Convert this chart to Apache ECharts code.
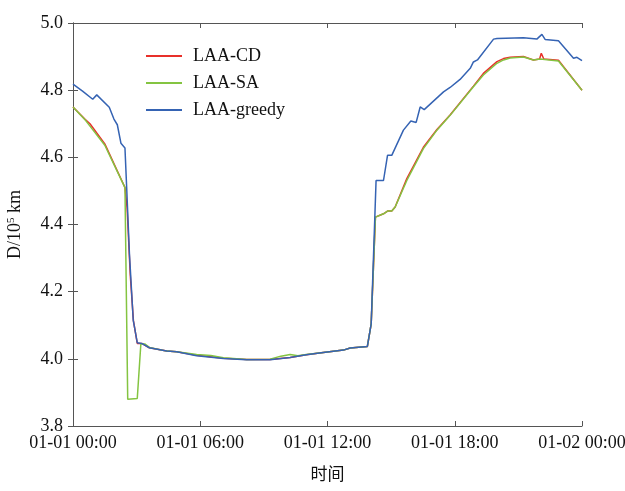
<!DOCTYPE html>
<html>
<head>
    <meta charset="UTF-8">
    <title>LAA distance</title>
    <style>
        body,
        html {
            width: 100%;
            height: 100%;
            margin: 0;
            padding: 0;
            background: #fff;
        }
        #myChart {
            width: 625px;
            height: 491px;
        }
    </style>
    <script src="https://cdn.jsdelivr.net/npm/echarts@6/dist/echarts.min.js"></script>
</head>
<body>
    <div id="myChart"></div>
    <script>
        // 数据：[小时, D/10^5 km]
        let seriesNames = ['LAA-CD', 'LAA-SA', 'LAA-greedy'];
        let xTicks = [0, 6, 12, 18, 24];
        let yTicks = [3.8, 4.0, 4.2, 4.4, 4.6, 4.8, 5.0];

        let cdPts = [
            [0, 4.75], [0.57, 4.713], [0.8, 4.70], [1.5, 4.64], [2.45, 4.51],
            [2.55, 4.45], [2.7, 4.25], [2.85, 4.113], [3.03, 4.046], [3.24, 4.046],
            [3.6, 4.033], [4.42, 4.023], [4.89, 4.021], [5.83, 4.011], [7.09, 4.002],
            [8.19, 3.998], [9.29, 3.998], [10.24, 4.004], [11.0, 4.012], [11.8, 4.019],
            [12.75, 4.026], [13.07, 4.032], [13.88, 4.037], [14.06, 4.104], [14.26, 4.422],
            [14.64, 4.432], [14.83, 4.44], [15.03, 4.44], [15.19, 4.452], [15.74, 4.537],
            [16.52, 4.63], [17.16, 4.683], [17.78, 4.726], [18.88, 4.812], [19.35, 4.85],
            [19.99, 4.885], [20.3, 4.894], [20.61, 4.898], [21.24, 4.9], [21.71, 4.89],
            [22.0, 4.893], [22.08, 4.91], [22.2, 4.893], [22.89, 4.889], [24, 4.8]
        ];

        let saPts = [
            [0, 4.75], [0.57, 4.712], [0.8, 4.693], [1.5, 4.636], [2.45, 4.51],
            [2.58, 3.88], [3.03, 3.882], [3.2, 4.045], [3.4, 4.044], [3.6, 4.034],
            [4.42, 4.023], [4.89, 4.021], [5.83, 4.013], [6.5, 4.01], [7.09, 4.003],
            [8.19, 3.998], [9.29, 3.999], [9.8, 4.008], [10.24, 4.013], [10.6, 4.009],
            [11.0, 4.013], [11.8, 4.019], [12.75, 4.026], [13.07, 4.032], [13.88, 4.037],
            [14.06, 4.104], [14.26, 4.422], [14.64, 4.432], [14.83, 4.44], [15.03, 4.44],
            [15.19, 4.452], [15.74, 4.531], [16.52, 4.626], [17.16, 4.681], [17.78, 4.725],
            [18.88, 4.81], [19.35, 4.845], [19.99, 4.88], [20.3, 4.89], [20.61, 4.896],
            [21.24, 4.899], [21.71, 4.89], [22.03, 4.893], [22.89, 4.887], [24, 4.8]
        ];

        let greedyPts = [
            [0, 4.818], [0.45, 4.797], [0.93, 4.773], [1.12, 4.786], [1.71, 4.749],
            [1.93, 4.714], [2.09, 4.697], [2.26, 4.642], [2.45, 4.628], [2.53, 4.511],
            [2.66, 4.314], [2.84, 4.115], [3.03, 4.048], [3.24, 4.046], [3.6, 4.033],
            [4.42, 4.023], [4.89, 4.021], [5.83, 4.009], [7.09, 4.001], [8.19, 3.997],
            [9.29, 3.997], [10.24, 4.004], [11.0, 4.012], [11.8, 4.019], [12.75, 4.026],
            [13.07, 4.032], [13.88, 4.037], [14.06, 4.104], [14.29, 4.531], [14.64, 4.531],
            [14.83, 4.606], [15.03, 4.606], [15.58, 4.681], [15.93, 4.708], [16.18, 4.704],
            [16.37, 4.75], [16.56, 4.742], [17.47, 4.795], [17.78, 4.808], [18.25, 4.832],
            [18.73, 4.865], [18.88, 4.884], [19.07, 4.89], [19.83, 4.952], [19.99, 4.954],
            [21.24, 4.956], [21.87, 4.952], [22.11, 4.966], [22.26, 4.951], [22.89, 4.947],
            [23.6, 4.895], [23.76, 4.898], [24, 4.888]
        ];

        let colors = ['#e8302a', '#84c441', '#3563b3'];

        function pad(n) {
            return n < 10 ? '0' + n : '' + n;
        }
        function timeLabel(h) {
            return h >= 24 ? '01-02 ' + pad(h - 24) + ':00' : '01-01 ' + pad(h) + ':00';
        }

        let axisColor = '#555';
        let fontFamily = '"Liberation Serif", "Times New Roman", serif';

        let myEcharts = echarts.init(document.querySelector('#myChart'));

        let baseX = {
            type: 'value',
            min: xTicks[0],
            max: xTicks[xTicks.length - 1],
            interval: 6,
            axisLine: { show: true, lineStyle: { color: axisColor, width: 1 } },
            axisTick: { show: true, inside: true, length: 5, lineStyle: { color: axisColor } },
            splitLine: { show: false }
        };
        let baseY = {
            type: 'value',
            min: yTicks[0],
            max: yTicks[yTicks.length - 1],
            interval: 0.2,
            axisLine: { show: true, lineStyle: { color: axisColor, width: 1 } },
            axisTick: { show: true, inside: true, length: 5, lineStyle: { color: axisColor } },
            splitLine: { show: false }
        };

        let option = {
            animation: false,
            backgroundColor: '#fff',
            color: colors,
            textStyle: { fontFamily: fontFamily },
            grid: {
                left: 73,
                right: 43,
                top: 23,
                bottom: 65,
                containLabel: false,
                outerBoundsMode: 'none'
            },
            legend: {
                show: true,
                data: seriesNames,
                orient: 'vertical',
                left: 141,
                top: 42,
                icon: 'rect',
                itemWidth: 36,
                itemHeight: 2,
                itemGap: 9,
                textStyle: {
                    fontFamily: fontFamily,
                    fontSize: 18,
                    color: '#111',
                    padding: [0, 0, 0, 6]
                }
            },
            xAxis: [
                Object.assign({}, baseX, {
                    position: 'bottom',
                    name: '时间',
                    nameLocation: 'middle',
                    nameGap: 39,
                    nameTextStyle: {
                        fontFamily: '"Noto Sans CJK SC", sans-serif',
                        fontSize: 17,
                        color: '#111'
                    },
                    axisLabel: {
                        fontFamily: fontFamily,
                        fontSize: 18,
                        color: '#111',
                        margin: 8,
                        formatter: function (v) { return timeLabel(v); }
                    }
                }),
                Object.assign({}, baseX, {
                    position: 'top',
                    axisLabel: { show: false }
                })
            ],
            yAxis: [
                Object.assign({}, baseY, {
                    position: 'left',
                    name: '{a|D/10}{b|5}{a| km}',
                    nameLocation: 'middle',
                    nameGap: 48,
                    nameTextStyle: {
                        rich: {
                            a: { fontFamily: fontFamily, fontSize: 18, color: '#111' },
                            b: { fontFamily: fontFamily, fontSize: 11, color: '#111', verticalAlign: 'top', padding: [0, 0, 8, 0] }
                        }
                    },
                    axisLabel: {
                        fontFamily: fontFamily,
                        fontSize: 18,
                        color: '#111',
                        margin: 10,
                        formatter: function (v) { return v.toFixed(1); }
                    }
                }),
                Object.assign({}, baseY, {
                    position: 'right',
                    axisLabel: { show: false }
                })
            ],
            series: [
                { name: seriesNames[0], type: 'line', data: cdPts },
                { name: seriesNames[1], type: 'line', data: saPts },
                { name: seriesNames[2], type: 'line', data: greedyPts }
            ].map(function (s, i) {
                return Object.assign(s, {
                    symbol: 'none',
                    smooth: false,
                    lineStyle: { width: 1.5, color: colors[i] },
                    itemStyle: { color: colors[i] },
                    z: 2 + i
                });
            })
        };

        myEcharts.setOption(option, true);
    </script>
</body>
</html>
